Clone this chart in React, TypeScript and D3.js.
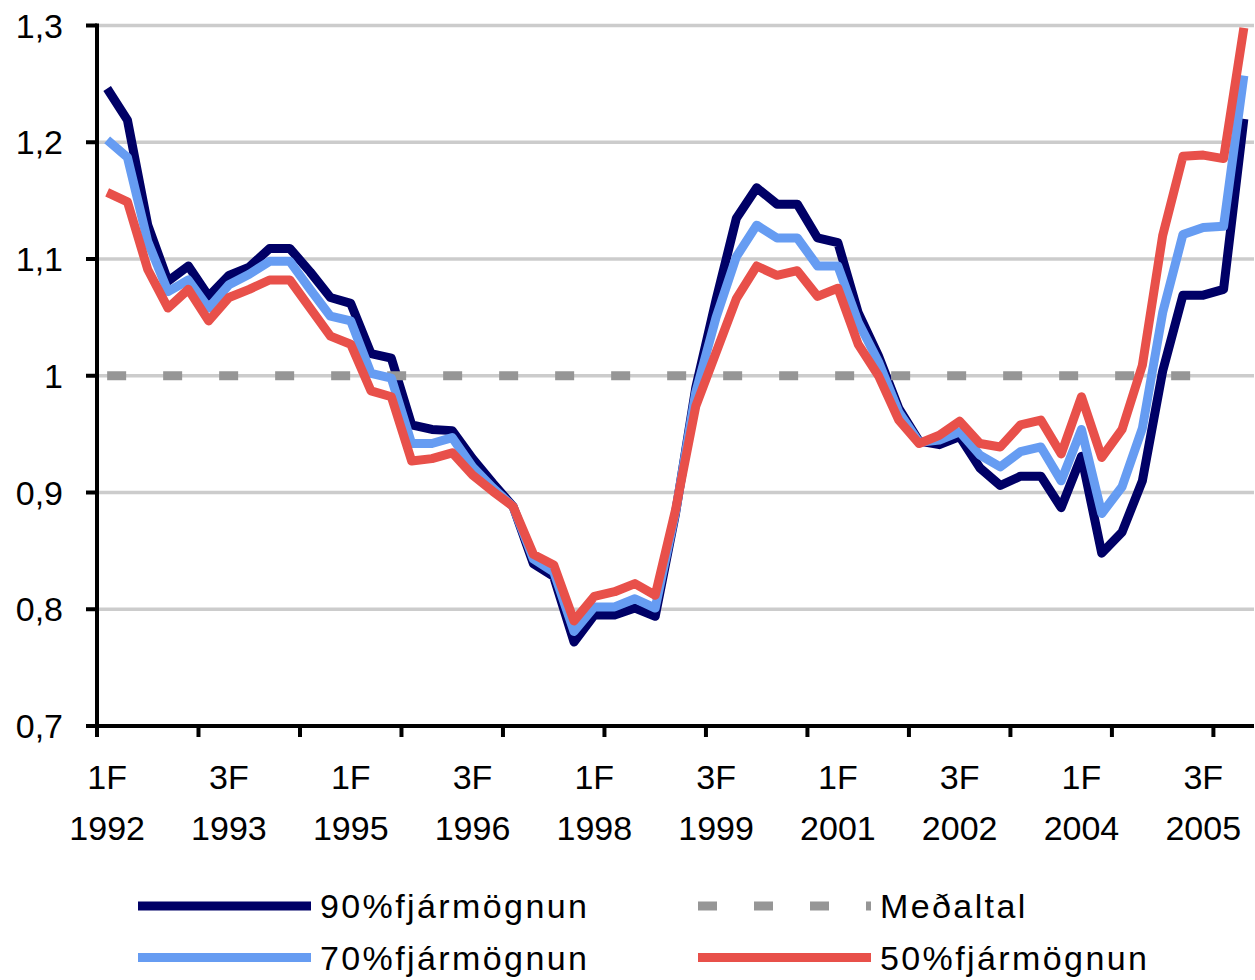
import React from "react";
import * as d3 from "d3";

// Quarterly index, 1F 1992 – 1F 2006 (57 quarters)
const years = d3.range(1992, 2007);
const quarters: string[] = [];
years.forEach((y) => {
  for (let q = 1; q <= 4; q++) {
    if (y === 2006 && q > 1) break;
    quarters.push(`${q}F ${y}`);
  }
});

const fin90 = [
  1.246, 1.219, 1.129, 1.081, 1.094, 1.068, 1.086, 1.093, 1.109, 1.109,
  1.089, 1.067, 1.062, 1.019, 1.015, 0.958, 0.954, 0.953, 0.929, 0.908,
  0.888, 0.839, 0.828, 0.772, 0.795, 0.795, 0.801, 0.794, 0.882, 0.99,
  1.065, 1.135, 1.161, 1.147, 1.147, 1.118, 1.114, 1.054, 1.017, 0.972,
  0.944, 0.941, 0.948, 0.921, 0.906, 0.914, 0.914, 0.887, 0.931, 0.848,
  0.866, 0.91, 1.004, 1.069, 1.069, 1.074, 1.22,
];

const fin70 = [
  1.202, 1.187, 1.115, 1.072, 1.082, 1.058, 1.078, 1.087, 1.098, 1.098,
  1.074, 1.051, 1.047, 1.002, 0.998, 0.942, 0.942, 0.947, 0.922, 0.904,
  0.888, 0.843, 0.832, 0.781, 0.802, 0.802, 0.809, 0.801, 0.883, 0.986,
  1.05, 1.102, 1.129, 1.118, 1.118, 1.094, 1.094, 1.046, 1.012, 0.969,
  0.943, 0.945, 0.952, 0.932, 0.922, 0.935, 0.939, 0.91, 0.954, 0.882,
  0.905, 0.955, 1.054, 1.121, 1.127, 1.128, 1.257,
];

const fin50 = [
  1.157, 1.149, 1.091, 1.058, 1.074, 1.047, 1.067, 1.074, 1.082, 1.082,
  1.058, 1.034, 1.027, 0.987, 0.982, 0.927, 0.929, 0.934, 0.915, 0.901,
  0.888, 0.847, 0.838, 0.79, 0.811, 0.815, 0.822, 0.812, 0.885, 0.974,
  1.02, 1.066, 1.094, 1.086, 1.09, 1.068, 1.075, 1.027, 1.0, 0.962,
  0.942, 0.949, 0.961, 0.942, 0.939, 0.958, 0.962, 0.933, 0.982, 0.93,
  0.954, 1.009, 1.12, 1.188, 1.189, 1.186, 1.298,
];

// Average (Meðaltal) runs through 3F 2005
const average = d3.range(55).map(() => 1.0);

const yTicks = [0.7, 0.8, 0.9, 1.0, 1.1, 1.2, 1.3];
const labelEvery = 6;
const tickEvery = 5;

const COLORS = {
  f90: "#000066",
  f70: "#669cf2",
  f50: "#e8504a",
  avg: "#969696",
  grid: "#cccccc",
  axis: "#000000",
};

const FONT = "'Liberation Sans', Arial, Helvetica, sans-serif";

export default function App() {
  const width = 1255;
  const height = 980;
  const left = 97;
  const right = 1254;
  const top = 25.5;
  const bottom = 726;

  const x = d3
    .scaleBand<number>()
    .domain(d3.range(quarters.length))
    .range([left, right])
    .padding(0);
  const bw = x.bandwidth();
  const cx = (i: number) => (x(i) as number) + bw / 2;

  const y = d3.scaleLinear().domain([0.7, 1.3]).range([bottom, top]);

  const line = d3
    .line<number>()
    .x((_, i) => cx(i))
    .y((d) => y(d));

  const fmt = (v: number) => {
    const s = v === 1 ? "1" : v.toFixed(1);
    return s.replace(".", ",");
  };

  const boundaryIdx = d3.range(0, quarters.length, tickEvery);
  const labelIdx = d3.range(0, quarters.length, labelEvery).filter((i) => i <= 54);

  const legendItems = [
    { label: "90%fjármögnun", color: COLORS.f90, dash: false, x: 138, y: 906 },
    { label: "Meðaltal", color: COLORS.avg, dash: true, x: 698, y: 906 },
    { label: "70%fjármögnun", color: COLORS.f70, dash: false, x: 138, y: 957.5 },
    { label: "50%fjármögnun", color: COLORS.f50, dash: false, x: 698, y: 957.5 },
  ];

  return (
    <div style={{ position: "absolute", left: 0, top: 0 }}>
      <svg width={width} height={height} style={{ display: "block", background: "#fff" }}>
        {/* horizontal gridlines */}
        {yTicks
          .filter((t) => t > 0.7)
          .map((t) => (
            <line
              key={`g${t}`}
              x1={left}
              x2={right}
              y1={y(t)}
              y2={y(t)}
              stroke={COLORS.grid}
              strokeWidth={3.5}
            />
          ))}

        {/* series */}
        <path
          d={line(fin90) || ""}
          fill="none"
          stroke={COLORS.f90}
          strokeWidth={9}
          strokeLinejoin="round"
        />
        <path
          d={line(average) || ""}
          fill="none"
          stroke={COLORS.avg}
          strokeWidth={9}
          strokeDasharray="19 37"
        />
        <path
          d={line(fin70) || ""}
          fill="none"
          stroke={COLORS.f70}
          strokeWidth={9}
          strokeLinejoin="round"
        />
        <path
          d={line(fin50) || ""}
          fill="none"
          stroke={COLORS.f50}
          strokeWidth={9}
          strokeLinejoin="round"
        />

        {/* y axis */}
        <line x1={left} x2={left} y1={top - 2} y2={bottom + 11} stroke={COLORS.axis} strokeWidth={4} />
        {yTicks.map((t) => (
          <g key={`yt${t}`}>
            <line x1={left - 11} x2={left} y1={y(t)} y2={y(t)} stroke={COLORS.axis} strokeWidth={4} />
            <text
              x={63}
              y={y(t) + 12}
              textAnchor="end"
              fontFamily={FONT}
              fontSize={34}
              fill="#000"
            >
              {fmt(t)}
            </text>
          </g>
        ))}

        {/* x axis */}
        <line x1={left} x2={right} y1={bottom} y2={bottom} stroke={COLORS.axis} strokeWidth={4} />
        {boundaryIdx.map((i) => (
          <line
            key={`xt${i}`}
            x1={x(i) as number}
            x2={x(i) as number}
            y1={bottom}
            y2={bottom + 11}
            stroke={COLORS.axis}
            strokeWidth={4}
          />
        ))}
        {labelIdx.map((i) => {
          const [q, yr] = quarters[i].split(" ");
          return (
            <g key={`xl${i}`} fontFamily={FONT} fontSize={34} fill="#000" textAnchor="middle">
              <text x={cx(i)} y={789}>
                {q}
              </text>
              <text x={cx(i)} y={840}>
                {yr}
              </text>
            </g>
          );
        })}

        {/* legend */}
        {legendItems.map((it) => (
          <g key={it.label}>
            <line
              x1={it.x}
              x2={it.x + 173}
              y1={it.y}
              y2={it.y}
              stroke={it.color}
              strokeWidth={9}
              strokeDasharray={it.dash ? "19 37" : undefined}
            />
            <text
              x={it.x + 182}
              y={it.y + 12}
              fontFamily={FONT}
              fontSize={34}
              letterSpacing={2.4}
              fill="#000"
            >
              {it.label}
            </text>
          </g>
        ))}
      </svg>
    </div>
  );
}
